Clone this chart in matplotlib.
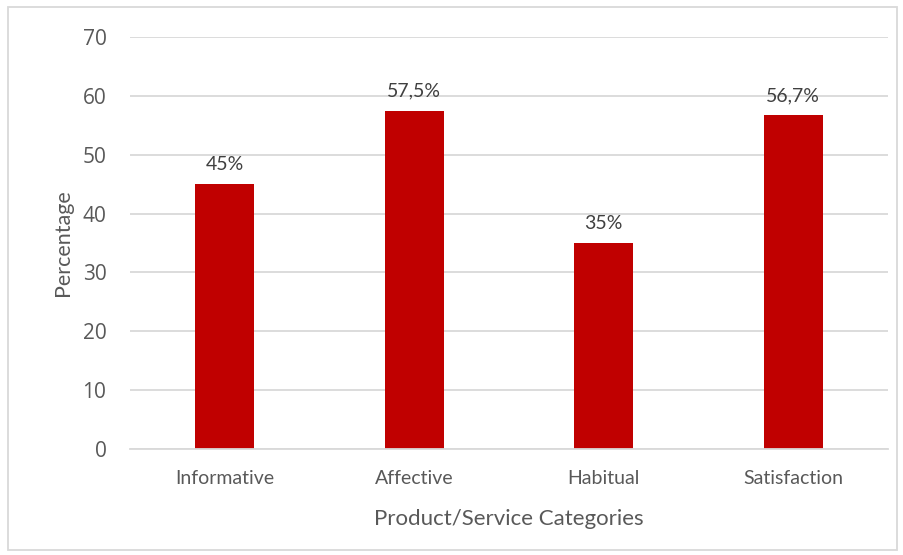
import matplotlib.pyplot as plt
from matplotlib.patches import Rectangle

categories = ["Informative", "Affective", "Habitual", "Satisfaction"]
percentages = [45, 57.5, 35, 56.7]
value_labels = ["45%", "57,5%", "35%", "56,7%"]
y_ticks = [0, 10, 20, 30, 40, 50, 60, 70]

fig = plt.figure(figsize=(9.04, 5.55), dpi=100)
ax = fig.add_axes([130 / 904, 106 / 555, 758 / 904, 412 / 555])

x = range(len(categories))
ax.bar(x, percentages, width=0.31, color="#C00000", zorder=3)

for xi, val, lab in zip(x, percentages, value_labels):
    ax.annotate(lab, (xi, val), xytext=(0, 8), textcoords="offset points",
                ha="center", va="bottom", fontsize=14, color="#404040",
                family="Lato")

ax.set_xlim(-0.5, 3.5)
ax.set_ylim(0, 70)
ax.set_yticks(y_ticks)
ax.set_xticks(list(x))
ax.set_xticklabels(categories, family="Lato", fontsize=14, color="#595959")
ax.tick_params(axis="y", labelsize=15, labelcolor="#595959", length=0, pad=17)
ax.tick_params(axis="x", length=0, pad=15)
for lab in ax.get_yticklabels():
    lab.set_family("Open Sans")

ax.grid(axis="y", color="#D9D9D9", linewidth=1.3, zorder=0)
for side in ["top", "right", "left"]:
    ax.spines[side].set_visible(False)
ax.spines["bottom"].set_color("#D9D9D9")
ax.spines["bottom"].set_linewidth(1.3)
ax.spines["bottom"].set_zorder(4)

ax.set_ylabel("Percentage", family="Lato", fontsize=15.5, color="#595959", labelpad=7)
ax.set_xlabel("Product/Service Categories", family="Lato", fontsize=16,
              color="#595959", labelpad=16)

# light frame around the whole chart
fig.patches.append(Rectangle((8 / 904, 5 / 555), 889 / 904, 543 / 555,
                             transform=fig.transFigure, fill=False,
                             edgecolor="#D9D9D9", linewidth=1.3))

fig.savefig("out.png", dpi=100)
